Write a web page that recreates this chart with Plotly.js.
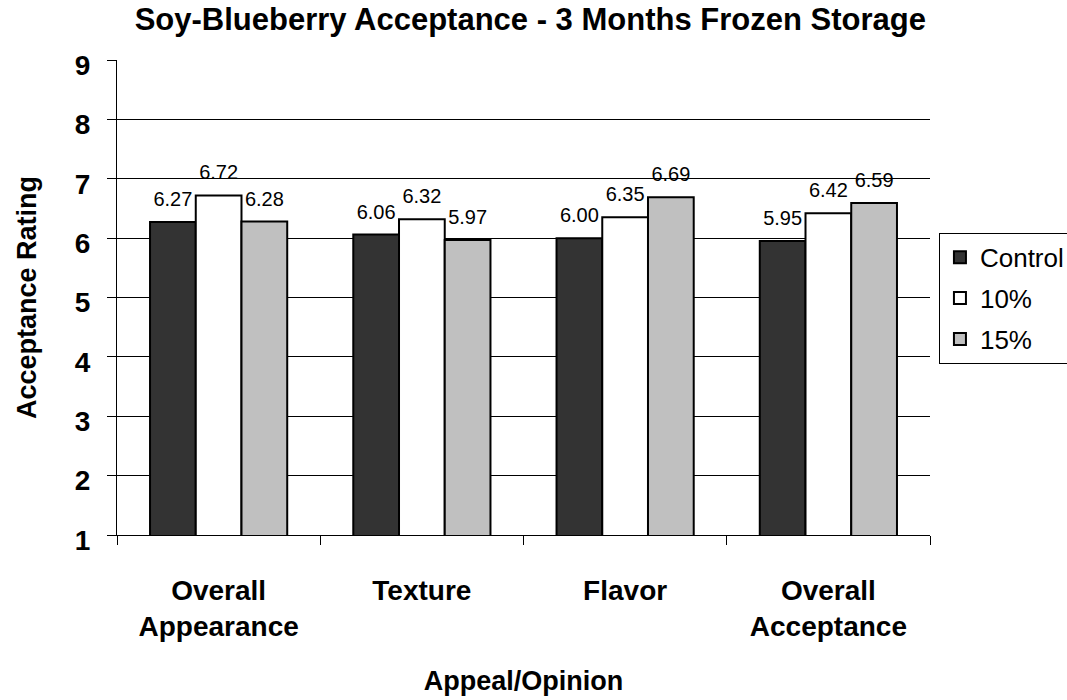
<!DOCTYPE html>
<html>
<head>
<meta charset="utf-8">
<script src="https://cdn.plot.ly/plotly-3.0.1.min.js"></script>
<style>html,body{margin:0;padding:0;background:#fff;}#chart{width:1067px;height:700px;}</style>
</head>
<body>
<div id="chart"></div>
<script>
var categories = ["Overall<br>Appearance", "Texture", "Flavor", "Overall<br>Acceptance"];
var seriesNames = ["Control", "10%", "15%"];
var controlValues = [6.27, 6.06, 6.00, 5.95];
var tenPctValues = [6.72, 6.32, 6.35, 6.42];
var fifteenPctValues = [6.28, 5.97, 6.69, 6.59];
var yTickValues = [1, 2, 3, 4, 5, 6, 7, 8, 9];
var gridValues = [2, 3, 4, 5, 6, 7, 8];

var seriesValues = [controlValues, tenPctValues, fifteenPctValues];
var fills = ["#333333", "#ffffff", "#c0c0c0"];
var FONT = "Liberation Sans, Arial, sans-serif";

var traces = [];
seriesValues.forEach(function (vals, i) {
  traces.push({
    type: "bar",
    name: seriesNames[i],
    legendgroup: "lg" + i,
    x: categories,
    y: vals,
    offsetgroup: "g" + i,
    marker: { color: fills[i], line: { color: "#000000", width: 2 } },
    hoverinfo: "x+y+name"
  });
});
seriesValues.forEach(function (vals, i) {
  traces.push({
    type: "scatter",
    mode: "markers+text",
    x: categories,
    y: vals,
    offsetgroup: "g" + i,
    marker: { size: 16, opacity: 0, color: "#000000" },
    text: vals.map(function (v) { return v.toFixed(2); }),
    textposition: "top center",
    textfont: { family: FONT, size: 20, color: "#000000" },
    showlegend: false,
    cliponaxis: false,
    hoverinfo: "skip"
  });
});
// helper trace to activate the grid axis
traces.push({ type: "scatter", x: [categories[0]], y: [null], yaxis: "y2", showlegend: false, hoverinfo: "skip" });

var layout = {
  width: 1067,
  height: 700,
  paper_bgcolor: "#ffffff",
  plot_bgcolor: "#ffffff",
  margin: { l: 117, r: 137, t: 60, b: 165, autoexpand: false },
  font: { family: FONT, color: "#000000" },
  title: {
    text: "<b>Soy-Blueberry Acceptance - 3 Months Frozen Storage</b>",
    font: { family: FONT, size: 31, color: "#000000" },
    x: 0.497, xanchor: "center",
    y: 0.973, yanchor: "middle"
  },
  barmode: "group",
  bargap: 0.325,
  bargroupgap: 0,
  scattermode: "group",
  scattergap: 0.325,
  showlegend: true,
  legend: {
    x: 1.011, xanchor: "left",
    y: 0.636, yanchor: "top",
    bordercolor: "#000000", borderwidth: 1,
    bgcolor: "#ffffff",
    font: { family: FONT, size: 26, color: "#000000" },
    traceorder: "grouped",
    tracegroupgap: 4
  },
  xaxis: {
    type: "category",
    showline: true, linecolor: "#000000", linewidth: 1,
    ticks: "outside", tickson: "boundaries", ticklen: 9, tickcolor: "#000000",
    showgrid: false,
    tickfont: { family: FONT, size: 28, color: "#000000" },
    ticklabelstandoff: 30,
    tickprefix: "<b>", ticksuffix: "</b>",
    title: { text: "<b>Appeal/Opinion</b>", font: { family: FONT, size: 27, color: "#000000" }, standoff: 30 },
    automargin: false,
    fixedrange: true
  },
  yaxis: {
    range: [1, 9],
    tickvals: yTickValues,
    ticktext: yTickValues.map(function (v) { return "<b>" + v + "</b>"; }),
    showline: true, linecolor: "#000000", linewidth: 1,
    ticks: "outside", ticklen: 9, tickcolor: "#000000",
    showgrid: false, zeroline: false,
    tickfont: { family: FONT, size: 28, color: "#000000" },
    ticklabelstandoff: 11,
    ticklabelshift: 5,
    title: { text: "<b>Acceptance Rating</b>", font: { family: FONT, size: 27, color: "#000000" }, standoff: 30 },
    automargin: false,
    fixedrange: true
  },
  yaxis2: {
    overlaying: "y",
    range: [1, 9],
    tickvals: gridValues,
    showticklabels: false,
    ticks: "",
    showgrid: true, gridcolor: "#000000", gridwidth: 1,
    zeroline: false, showline: false,
    layer: "below traces",
    automargin: false,
    fixedrange: true
  }
};

Plotly.newPlot("chart", traces, layout, { displayModeBar: false, staticPlot: true });
</script>
</body>
</html>
